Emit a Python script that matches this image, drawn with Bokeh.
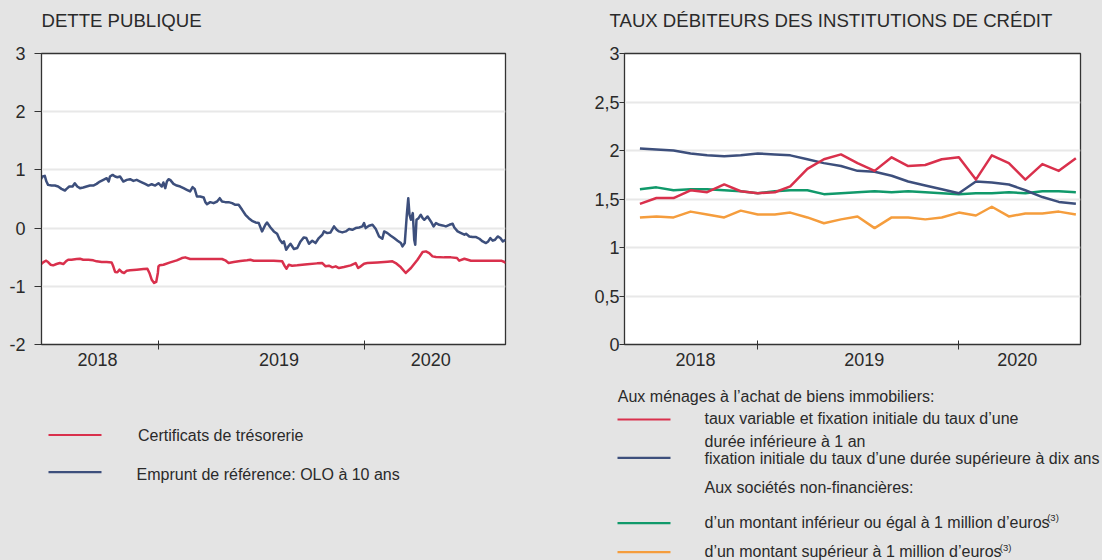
import pandas as pd
from bokeh.plotting import figure
from bokeh.models import Range1d, FixedTicker, CustomJSTickFormatter, ColumnDataSource
from bokeh.layouts import row, column
from bokeh.core.properties import value
from bokeh.embed import file_html
from bokeh.resources import INLINE

# ---------------- data ----------------
# Left chart: daily yields (decimal year, %)
olo_t = [2018.426, 2018.436, 2018.447, 2018.455, 2018.463, 2018.480, 2018.496, 2018.512, 2018.528, 2018.545,
         2018.553, 2018.566, 2018.582, 2018.593, 2018.605, 2018.618, 2018.634, 2018.650, 2018.667, 2018.683,
         2018.699, 2018.715, 2018.732, 2018.748, 2018.758, 2018.764, 2018.777, 2018.789, 2018.800, 2018.813,
         2018.829, 2018.846, 2018.862, 2018.878, 2018.894, 2018.911, 2018.935, 2018.951, 2018.967, 2018.984,
         2019.000, 2019.016, 2019.024, 2019.033, 2019.041, 2019.049, 2019.057, 2019.073, 2019.089, 2019.106,
         2019.122, 2019.138, 2019.154, 2019.166, 2019.176, 2019.187, 2019.203, 2019.220, 2019.228, 2019.236,
         2019.252, 2019.268, 2019.285, 2019.298, 2019.309, 2019.325, 2019.341, 2019.358, 2019.374, 2019.390,
         2019.407, 2019.423, 2019.439, 2019.455, 2019.472, 2019.488, 2019.504, 2019.520, 2019.528, 2019.545,
         2019.561, 2019.577, 2019.590, 2019.602, 2019.610, 2019.621, 2019.634, 2019.642, 2019.659, 2019.675,
         2019.691, 2019.707, 2019.719, 2019.732, 2019.748, 2019.764, 2019.780, 2019.797, 2019.805, 2019.821,
         2019.837, 2019.854, 2019.867, 2019.878, 2019.894, 2019.911, 2019.927, 2019.943, 2019.959, 2019.976,
         2019.992, 2020.000, 2020.008, 2020.024, 2020.041, 2020.057, 2020.073, 2020.089, 2020.098, 2020.114,
         2020.130, 2020.146, 2020.163, 2020.179, 2020.187, 2020.198, 2020.208, 2020.215, 2020.221, 2020.228,
         2020.237, 2020.244, 2020.249, 2020.255, 2020.265, 2020.276, 2020.285, 2020.293, 2020.309, 2020.325,
         2020.338, 2020.350, 2020.366, 2020.382, 2020.398, 2020.415, 2020.431, 2020.439, 2020.455, 2020.472,
         2020.488, 2020.496, 2020.512, 2020.528, 2020.545, 2020.561, 2020.577, 2020.593, 2020.604, 2020.614,
         2020.626, 2020.637, 2020.650, 2020.663, 2020.675, 2020.689]
olo_v = [0.829, 0.886, 0.897, 0.800, 0.743, 0.731, 0.731, 0.714, 0.674, 0.646,
         0.674, 0.714, 0.714, 0.771, 0.714, 0.686, 0.697, 0.714, 0.731, 0.731,
         0.760, 0.800, 0.829, 0.857, 0.800, 0.886, 0.914, 0.886, 0.874, 0.886,
         0.800, 0.829, 0.840, 0.811, 0.829, 0.800, 0.760, 0.731, 0.754, 0.731,
         0.771, 0.714, 0.783, 0.686, 0.800, 0.840, 0.829, 0.760, 0.731, 0.714,
         0.686, 0.657, 0.629, 0.703, 0.674, 0.543, 0.543, 0.526, 0.446, 0.411,
         0.446, 0.429, 0.457, 0.514, 0.457, 0.446, 0.446, 0.429, 0.400, 0.400,
         0.314, 0.229, 0.171, 0.126, 0.097, 0.086, -0.057, 0.057, 0.097, 0.011,
         -0.057, -0.097, -0.200, -0.257, -0.229, -0.371, -0.303, -0.269, -0.360, -0.343,
         -0.229, -0.160, -0.171, -0.269, -0.217, -0.257, -0.171, -0.114, -0.057, -0.086,
         -0.074, 0.029, -0.029, -0.057, -0.074, -0.057, -0.017, -0.029, 0.000, 0.011,
         0.029, 0.086, 0.000, 0.040, 0.057, -0.017, -0.143, -0.183, -0.057, -0.086,
         -0.131, -0.171, -0.217, -0.257, -0.314, -0.257, 0.229, 0.514, 0.229, 0.143,
         0.257, -0.200, -0.286, 0.143, 0.171, 0.229, 0.171, 0.143, 0.200, 0.114,
         0.029, 0.086, 0.057, 0.046, 0.029, 0.057, 0.074, 0.011, -0.057, -0.086,
         -0.114, -0.097, -0.143, -0.154, -0.154, -0.183, -0.229, -0.257, -0.229, -0.171,
         -0.217, -0.200, -0.143, -0.171, -0.229, -0.200]

cert_t = [2018.426, 2018.439, 2018.452, 2018.463, 2018.475, 2018.488, 2018.504, 2018.520, 2018.537, 2018.550,
          2018.561, 2018.577, 2018.602, 2018.618, 2018.634, 2018.659, 2018.683, 2018.699, 2018.724, 2018.748,
          2018.772, 2018.780, 2018.789, 2018.800, 2018.810, 2018.821, 2018.833, 2018.846, 2018.862, 2018.894,
          2018.927, 2018.946, 2018.956, 2018.967, 2018.979, 2018.989, 2018.997, 2019.000, 2019.005, 2019.024,
          2019.057, 2019.089, 2019.114, 2019.130, 2019.154, 2019.187, 2019.236, 2019.285, 2019.309, 2019.325,
          2019.341, 2019.366, 2019.398, 2019.431, 2019.447, 2019.463, 2019.512, 2019.561, 2019.602, 2019.613,
          2019.623, 2019.634, 2019.650, 2019.675, 2019.724, 2019.772, 2019.797, 2019.813, 2019.829, 2019.846,
          2019.862, 2019.878, 2019.902, 2019.935, 2019.959, 2019.971, 2019.984, 2020.000, 2020.016, 2020.065,
          2020.114, 2020.138, 2020.154, 2020.179, 2020.203, 2020.228, 2020.260, 2020.285, 2020.301, 2020.317,
          2020.333, 2020.350, 2020.390, 2020.423, 2020.452, 2020.463, 2020.488, 2020.520, 2020.569, 2020.618,
          2020.667, 2020.683, 2020.689]
cert_v = [-0.629, -0.589, -0.560, -0.583, -0.629, -0.640, -0.617, -0.600, -0.617, -0.571,
          -0.543, -0.543, -0.531, -0.526, -0.543, -0.543, -0.554, -0.571, -0.583, -0.583,
          -0.589, -0.657, -0.754, -0.760, -0.714, -0.754, -0.771, -0.731, -0.726, -0.714,
          -0.703, -0.697, -0.771, -0.886, -0.943, -0.926, -0.771, -0.657, -0.640, -0.629,
          -0.589, -0.554, -0.514, -0.503, -0.531, -0.531, -0.531, -0.531, -0.531, -0.554,
          -0.600, -0.583, -0.566, -0.554, -0.543, -0.560, -0.560, -0.560, -0.571, -0.646,
          -0.697, -0.629, -0.646, -0.640, -0.623, -0.606, -0.600, -0.657, -0.646, -0.674,
          -0.657, -0.686, -0.669, -0.640, -0.600, -0.686, -0.657, -0.611, -0.600, -0.589,
          -0.577, -0.571, -0.600, -0.674, -0.771, -0.686, -0.543, -0.411, -0.400, -0.429,
          -0.486, -0.497, -0.503, -0.503, -0.514, -0.560, -0.526, -0.560, -0.560, -0.560,
          -0.560, -0.583, -0.600]

# Right chart: monthly rates (%), June 2018 - August 2020
months = pd.date_range("2018-06-01", "2020-08-01", freq="MS")
taux_variable = [1.45, 1.51, 1.51, 1.59, 1.57, 1.65, 1.58, 1.56, 1.57, 1.63, 1.81, 1.91, 1.96, 1.87,
                 1.79, 1.93, 1.84, 1.85, 1.91, 1.93, 1.70, 1.95, 1.87, 1.70, 1.86, 1.79, 1.92]
fixation_10ans = [2.02, 2.01, 2.00, 1.97, 1.95, 1.94, 1.95, 1.97, 1.96, 1.95, 1.91, 1.87, 1.84, 1.79,
                  1.78, 1.74, 1.68, 1.64, 1.60, 1.56, 1.68, 1.67, 1.65, 1.59, 1.52, 1.47, 1.45]
snf_petit = [1.60, 1.62, 1.59, 1.60, 1.60, 1.59, 1.58, 1.56, 1.58, 1.59, 1.59, 1.55, 1.56, 1.57,
             1.58, 1.57, 1.58, 1.57, 1.56, 1.55, 1.56, 1.56, 1.57, 1.56, 1.58, 1.58, 1.57]
snf_grand = [1.31, 1.32, 1.31, 1.37, 1.34, 1.31, 1.38, 1.34, 1.34, 1.36, 1.31, 1.25, 1.29, 1.32,
             1.20, 1.31, 1.31, 1.29, 1.31, 1.36, 1.33, 1.42, 1.32, 1.35, 1.35, 1.37, 1.34]

years = ["2018", "2019", "2020"]
left_title = "DETTE PUBLIQUE"
right_title = "TAUX DÉBITEURS DES INSTITUTIONS DE CRÉDIT"
left_labels = ["Certificats de trésorerie", "Emprunt de référence: OLO à 10 ans"]
right_header1 = "Aux ménages à l’achat de biens immobiliers:"
right_header2 = "Aux sociétés non-financières:"
right_labels = ["taux variable et fixation initiale du taux d’une",
                "durée inférieure à 1 an",
                "fixation initiale du taux d’une durée supérieure à dix ans",
                "d’un montant inférieur ou égal à 1 million d’euros",
                "d’un montant supérieur à 1 million d’euros"]
note_mark = "(3)"

# ---------------- style ----------------
BG = "#e4e4e4"
TXT = "#2a2a2a"
FONT = "Liberation Sans"
RED = "#d9304c"
BLUE = "#3d4f7c"
GREEN = "#10996a"
ORANGE = "#f59d3d"
AX = "#333333"


def decimal_year(ts):
    return [d.year + (d.dayofyear - 1) / (366 if d.is_leap_year else 365) for d in ts]


def strip(width, height, y_top, y_bottom):
    s = figure(width=width, height=height, x_range=Range1d(0, width), y_range=Range1d(y_bottom, y_top),
               output_backend="svg", toolbar_location=None, min_border=0,
               x_axis_type=None, y_axis_type=None,
               background_fill_color=BG, border_fill_color=BG, outline_line_color=None)
    s.grid.visible = False
    return s


def base_chart(width, mb_left, mb_right, x_range, y_range, yticks, label_pos):
    p = figure(width=width, height=335, x_range=x_range, y_range=y_range,
               output_backend="svg", toolbar_location=None,
               min_border_left=mb_left, min_border_right=mb_right,
               min_border_top=13, min_border_bottom=31,
               background_fill_color="white", border_fill_color=BG,
               outline_line_color=AX, outline_line_width=1.3)

    xa = p.xaxis[0]
    xa.ticker = FixedTicker(ticks=label_pos, minor_ticks=[2019, 2020])
    xa.formatter = CustomJSTickFormatter(code="return String(Math.floor(tick));")
    xa.major_tick_line_color = None
    xa.major_tick_in = 0
    xa.major_tick_out = 0
    xa.minor_tick_in = 4
    xa.minor_tick_out = 5
    xa.minor_tick_line_color = AX
    xa.axis_line_color = AX
    xa.major_label_standoff = 3
    xa.major_label_text_font = FONT
    xa.major_label_text_font_size = "18px"
    xa.major_label_text_color = TXT

    ya = p.yaxis[0]
    ya.ticker = FixedTicker(ticks=yticks)
    ya.formatter = CustomJSTickFormatter(code="return tick.toString().replace('.', ',');")
    ya.major_tick_in = 0
    ya.major_tick_out = 7
    ya.major_tick_line_color = AX
    ya.minor_tick_line_color = None
    ya.axis_line_color = AX
    ya.major_label_standoff = 9
    ya.major_label_text_font = FONT
    ya.major_label_text_font_size = "18px"
    ya.major_label_text_color = TXT

    p.xgrid.visible = False
    p.ygrid.grid_line_color = "#e8e8e8"
    p.ygrid.grid_line_width = 2
    return p


# Titles strip (page coordinates)
top = strip(1102, 40, 0, 40)
tsrc = ColumnDataSource(dict(x=[41, 609], y=[19.7, 19.7], t=[left_title, right_title]))
top.text(x="x", y="y", text="t", source=tsrc, text_font=value(FONT), text_font_size="18.6px",
         text_color=TXT, text_baseline="alphabetic", text_align="left")

# Left chart
p1 = base_chart(560, 41, 55, Range1d(2018.431, 2020.688), Range1d(-2, 3),
                [-2, -1, 0, 1, 2, 3], [2018.703, 2019.586, 2020.324])
p1.line(cert_t, cert_v, line_color=RED, line_width=2.5, line_join="round")
p1.line(olo_t, olo_v, line_color=BLUE, line_width=2.5, line_join="round")

# Right chart
mx = decimal_year(months)
src = ColumnDataSource(dict(x=mx, a=taux_variable, b=fixation_10ans, c=snf_petit, d=snf_grand))
p2 = base_chart(542, 64, 22, Range1d(2018.337, 2020.605), Range1d(0, 3),
                [0, 0.5, 1, 1.5, 2, 2.5, 3], [2018.69, 2019.53, 2020.29])
p2.yaxis[0].major_label_standoff = 0
p2.yaxis[0].major_tick_out = 5
for col, c in (("c", GREEN), ("d", ORANGE), ("b", BLUE), ("a", RED)):
    p2.line("x", col, source=src, line_color=c, line_width=2.5, line_join="round")

# Legend strip (page coordinates)
lg = strip(1102, 185, 375, 560)

seg = ColumnDataSource(dict(
    x0=[48, 48, 617, 617, 617, 617],
    x1=[101, 101, 670, 670, 670, 670],
    y=[434.5, 471.7, 419, 457.3, 522.7, 551.7],
    c=[RED, BLUE, RED, BLUE, GREEN, ORANGE]))
lg.segment(x0="x0", y0="y", x1="x1", y1="y", line_color="c", line_width=2.2, source=seg)

txt = ColumnDataSource(dict(
    x=[137.5, 136, 617.3, 704, 704, 704, 704, 704, 704],
    y=[435, 473.5, 396, 417.8, 441, 458.3, 486.5, 521.5, 551],
    t=[left_labels[0], left_labels[1], right_header1, right_labels[0], right_labels[1],
       right_labels[2], right_header2, right_labels[3], right_labels[4]]))
lg.text(x="x", y="y", text="t", source=txt, text_font=value(FONT), text_font_size="16px",
        text_color=TXT, text_baseline="alphabetic", text_align="left")

sup = ColumnDataSource(dict(x=[1046.7, 999.3], y=[516.5, 547], t=[note_mark, note_mark]))
lg.text(x="x", y="y", text="t", source=sup, text_font=value(FONT), text_font_size="9.5px",
        text_color=TXT, text_baseline="alphabetic", text_align="left")

bgstyle = {"background-color": BG}
layout = column(top, row(p1, p2, styles=bgstyle), lg, styles=bgstyle)
open("out.html", "w").write(file_html(layout, INLINE))
